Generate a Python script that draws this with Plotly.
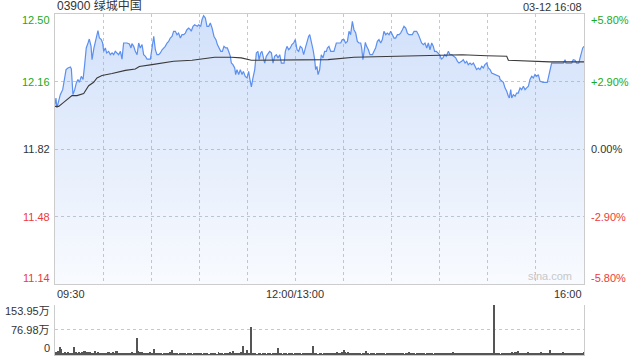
import plotly.graph_objects as go

# ---------------- data ----------------
title_text = "03900 绿城中国"
date_text = "03-12 16:08"
prev_close = 11.82
price_ticks = [12.50, 12.16, 11.82, 11.48, 11.14]
pct_labels = ["+5.80%", "+2.90%", "0.00%", "-2.90%", "-5.80%"]
time_labels = ["09:30", "12:00/13:00", "16:00"]
time_label_pos = [0, 150, 330]
grid_minutes = [30, 60, 90, 120, 150, 180, 210, 240, 270, 300]
vol_ticks = [153.95, 76.98, 0]
vol_labels = ["153.95万", "76.98万", "0"]

# price line (minutes since 09:30, trading-time axis)
price_min = [0.0, 0.6, 1.2, 2.3, 3.3, 4.8, 6.0, 6.9, 8.1, 9.6, 10.2, 11.2, 12.3, 13.3, 14.3, 15.2, 16.4, 17.5,
             18.5, 19.5, 20.6, 21.4, 22.5, 23.1, 24.3, 25.8, 26.8, 27.7, 28.9, 29.7, 30.4, 31.4, 32.2, 33.5,
             34.5, 35.6, 36.6, 37.6, 38.7, 39.7, 40.8, 41.8, 42.8, 44.9, 46.4, 47.4, 48.0, 49.1, 50.1, 51.2,
             52.2, 53.2, 54.3, 55.3, 56.4, 57.4, 59.5, 60.5, 61.6, 62.6, 63.6, 64.7, 65.7, 66.8, 67.8, 68.8,
             69.9, 70.9, 71.9, 73.0, 74.0, 75.1, 76.1, 77.1, 78.2, 79.2, 80.3, 81.3, 82.3, 83.4, 84.4,
             85.0, 86.1, 87.1, 88.8, 89.6, 90.9, 91.7, 92.7, 93.8, 94.8, 95.9, 96.9, 98.0, 99.2, 100.4,
             101.3, 102.3, 103.4, 104.4, 105.4, 106.5, 107.5, 108.3, 109.4, 110.0, 111.0, 112.1, 112.7,
             113.5, 114.6, 115.6, 116.7, 117.5, 118.7, 119.8, 120.8, 121.6, 122.5, 123.5, 124.6, 125.6,
             126.6, 127.3, 128.3, 129.1, 130.2, 130.8, 131.8, 132.9, 133.9, 135.0, 136.0, 137.0, 138.1,
             139.1, 140.2, 141.2, 142.9, 143.7, 144.7, 145.8, 146.8, 147.8, 148.9, 149.9, 151.0, 152.0,
             153.0, 154.1, 155.1, 156.2, 157.2, 158.2, 158.9, 159.9, 161.0, 162.0, 162.6, 163.4, 164.1,
             165.1, 166.1, 167.2, 168.2, 169.3,
             169.9, 170.9, 172.0, 174.0, 175.5, 178.2, 179.2, 180.3, 181.3, 182.4, 183.4, 184.4, 185.5,
             186.5, 187.6, 188.6, 189.6, 190.7, 191.3, 192.1, 192.8, 193.6, 194.4, 195.5, 196.5, 198.0,
             199.0, 200.0, 201.1, 202.1, 203.2, 204.2, 205.2, 206.3, 207.3, 208.4, 209.4, 210.4, 211.5,
             212.5, 213.6, 214.6, 215.6, 216.7, 217.7, 218.8, 219.8, 220.8, 222.9, 224.0, 225.6, 226.7,
             227.7, 228.7, 229.8, 230.8, 231.9, 232.9, 233.9, 235.0, 236.0, 236.8, 237.9, 238.9, 240.0,
             241.0, 242.0, 243.1, 244.1, 245.4, 246.4, 247.5, 248.9, 250.0, 251.0, 252.0,
             253.7, 254.7, 255.8, 256.8, 257.8, 258.9, 259.9, 261.0, 262.0, 263.0, 264.1, 265.1, 266.2,
             267.2, 268.2, 269.3, 270.3, 271.4, 272.4, 274.5, 275.5, 277.2, 277.6, 278.6, 279.7, 280.7,
             281.8, 282.8, 283.4, 284.3, 284.9, 285.9, 287.0, 288.0, 289.0, 290.1, 291.1, 292.2, 293.2,
             294.2, 295.3, 296.3, 297.4, 298.4, 299.4, 300.5, 301.5, 302.6, 304.6, 307.1, 308.4, 309.8,
             311.9, 315.0, 317.1, 318.2, 318.8, 322.3, 323.3, 324.4, 325.4, 326.7, 327.9, 329.2, 330.0]
price_val = [12.044, 12.077, 12.027, 12.069, 12.094, 12.119, 12.178, 12.220, 12.228, 12.233, 12.223, 12.094,
             12.119, 12.153, 12.170, 12.156, 12.186, 12.170, 12.245, 12.329, 12.354, 12.374, 12.337, 12.270,
             12.329, 12.387, 12.416, 12.379, 12.371, 12.354, 12.312, 12.329, 12.304, 12.312, 12.295, 12.304,
             12.295, 12.312, 12.304, 12.295, 12.312, 12.273, 12.354, 12.354, 12.349, 12.329, 12.351, 12.337,
             12.312, 12.295, 12.354, 12.329, 12.346, 12.295, 12.287, 12.273, 12.273, 12.320, 12.387, 12.320,
             12.295, 12.295, 12.304, 12.320, 12.329, 12.337, 12.354, 12.362, 12.379, 12.387, 12.413, 12.413,
             12.396, 12.404, 12.379, 12.396, 12.396, 12.404, 12.421, 12.429, 12.421,
             12.413, 12.438, 12.446, 12.438, 12.446, 12.438, 12.471, 12.491, 12.480, 12.438, 12.438, 12.455,
             12.429, 12.387, 12.371, 12.346, 12.329, 12.312, 12.312, 12.337, 12.329, 12.329, 12.312, 12.287,
             12.253, 12.245, 12.228, 12.195, 12.220, 12.195, 12.220, 12.195, 12.211, 12.186, 12.178, 12.211,
             12.170, 12.133, 12.178, 12.220, 12.304, 12.312, 12.270, 12.304, 12.312, 12.279, 12.253, 12.287,
             12.304, 12.312, 12.304, 12.253, 12.287, 12.295, 12.279, 12.295, 12.253, 12.253, 12.312, 12.337,
             12.320, 12.329, 12.346, 12.354, 12.371, 12.320, 12.312, 12.337, 12.329, 12.295, 12.329, 12.362,
             12.387, 12.396, 12.362, 12.320, 12.270, 12.220, 12.236, 12.195, 12.220, 12.295, 12.279, 12.312,
             12.312,
             12.329, 12.337, 12.312, 12.312, 12.354, 12.354, 12.371, 12.371, 12.354, 12.362, 12.413, 12.396,
             12.463, 12.421, 12.404, 12.362, 12.354, 12.354, 12.329, 12.270, 12.320, 12.357, 12.337, 12.320,
             12.295, 12.295, 12.312, 12.329, 12.362, 12.371, 12.354, 12.371, 12.413, 12.396, 12.404, 12.396,
             12.413, 12.396, 12.379, 12.379, 12.396, 12.396, 12.404, 12.421, 12.438, 12.429, 12.404, 12.396,
             12.396, 12.413, 12.413, 12.396, 12.371, 12.354, 12.346, 12.354, 12.329, 12.354, 12.320, 12.354,
             12.337, 12.312, 12.312, 12.304, 12.295, 12.273, 12.279, 12.295, 12.287, 12.312, 12.295, 12.295,
             12.287, 12.279, 12.262, 12.253,
             12.262, 12.270, 12.253, 12.262, 12.245, 12.253, 12.245, 12.253, 12.237, 12.220, 12.228, 12.220,
             12.237, 12.228, 12.245, 12.253, 12.228, 12.220, 12.203, 12.195, 12.195, 12.186, 12.170, 12.161,
             12.156, 12.128, 12.111, 12.086, 12.077, 12.119, 12.077, 12.094, 12.086, 12.102, 12.102, 12.128,
             12.119, 12.136, 12.119, 12.128, 12.136, 12.170, 12.186, 12.178, 12.195, 12.186, 12.195, 12.161,
             12.156, 12.156, 12.203, 12.253, 12.253, 12.253, 12.253, 12.270, 12.253, 12.253, 12.270, 12.267,
             12.253, 12.253, 12.287, 12.329, 12.337]

# average price line
avg_min = [0, 2.3, 5.4, 8.5, 10.6, 13.7, 17.9, 21.0, 24.1, 26.2, 29.3, 35.6, 43.9, 50.1, 52.6, 60.5, 68.8,
           74.0, 85.5, 93.4, 99.6, 110.0, 116.2, 122.5, 128.7, 170.3, 186.5, 209.4, 230.2, 253.9, 269.3,
           281.8, 282.8, 294.3, 308.8, 330.0]
avg_val = [12.035, 12.035, 12.055, 12.077, 12.089, 12.089, 12.099, 12.139, 12.156, 12.178, 12.190, 12.200,
           12.216, 12.223, 12.236, 12.245, 12.254, 12.262, 12.267, 12.274, 12.282, 12.282, 12.279, 12.267,
           12.267, 12.270, 12.282, 12.287, 12.292, 12.295, 12.290, 12.287, 12.267, 12.262, 12.259, 12.259]

# volume per minute (万股)
volume = [8, 10, 12, 26, 18, 6, 9, 5, 8, 6, 5, 7, 24, 8, 6, 10, 4, 9, 12, 13, 9, 10, 8, 5, 6, 11, 7, 9, 5, 6,
          7, 5, 6, 8, 9, 6, 10, 5, 11, 12, 7, 6, 4, 5, 5, 7, 4, 6, 8, 5, 7, 51, 12, 9, 10, 7, 5, 6, 4, 8,
          5, 6, 18, 7, 4, 5, 6, 3, 5, 7, 4, 6, 8, 15, 6, 4, 5, 3, 4, 6, 5, 4, 3, 5, 4, 6, 3, 4, 5, 4,
          4, 5, 3, 6, 4, 5, 3, 4, 5, 6, 4, 3, 10, 4, 5, 3, 6, 4, 7, 10, 6, 13, 5, 4, 6, 5, 8, 29, 4, 7,
          16, 5, 85, 6, 4, 5, 3, 4, 5, 3, 4, 6, 3, 4, 5, 3, 4, 6, 5, 22, 5, 4, 3, 5, 4, 3, 6, 4, 5, 3,
          4, 5, 7, 4, 3, 5, 4, 6, 5, 4, 6, 29, 5, 4, 3, 4, 5, 3, 4, 5, 6, 4, 5, 7, 6, 5, 8, 6, 7, 9,
          15, 8, 6, 10, 7, 5, 6, 5, 4, 6, 5, 3, 4, 5, 13, 4, 3, 5, 4, 6, 3, 4, 5, 6, 4, 5, 3, 6, 4, 5,
          6, 5, 4, 7, 5, 6, 4, 5, 3, 6, 5, 9, 5, 4, 6, 3, 5, 4, 6, 5, 4, 3, 5, 4, 6, 5, 3, 4, 5, 4,
          5, 4, 6, 5, 7, 4, 6, 5, 8, 4, 6, 7, 5, 6, 4, 5, 7, 6, 4, 5, 6, 4, 7, 5, 6, 5, 4, 6, 5, 7,
          5, 4, 6, 5, 153.95, 6, 4, 5, 3, 4, 5, 6, 4, 5, 7, 8, 6, 9, 10, 12, 6, 5, 7, 4, 6, 8, 5, 4, 6, 5,
          4, 6, 5, 8, 7, 5, 6, 4, 7, 16, 5, 6, 4, 5, 7, 6, 5, 8, 6, 4, 5, 6, 7, 5, 4, 6, 5, 7, 4, 6, 9]
vol_min = list(range(len(volume)))

# ---------------- styling ----------------
FONT = "Liberation Sans, Arial, Noto Sans CJK SC, sans-serif"
GREEN = "#1aaa1a"
RED = "#ee3a3a"
DARK = "#333333"
GRID = "#c8c8c8"
BORDER = "#cccccc"

fig = go.Figure()

fig.add_trace(go.Scatter(
    x=price_min, y=price_val, mode="lines",
    line=dict(color="#5b8ff0", width=1.2),
    fill="tozeroy",
    fillgradient=dict(type="vertical", start=11.14, stop=12.50,
                      colorscale=[[0, "rgba(120,165,240,0.05)"], [1, "rgba(120,165,240,0.34)"]]),
    xaxis="x", yaxis="y", hoverinfo="skip", showlegend=False))

fig.add_trace(go.Scatter(
    x=avg_min, y=avg_val, mode="lines",
    line=dict(color="#3a3a3a", width=1.1),
    xaxis="x", yaxis="y", hoverinfo="skip", showlegend=False))

fig.add_trace(go.Bar(
    x=vol_min, y=volume, width=0.6,
    marker=dict(color="#555555", line=dict(width=0)),
    xaxis="x2", yaxis="y2", hoverinfo="skip", showlegend=False))

fig.update_layout(
    width=640, height=360,
    margin=dict(l=55, r=56, t=14, b=5),
    paper_bgcolor="white", plot_bgcolor="white",
    font=dict(family=FONT, size=11, color=DARK),
    bargap=0,
    xaxis=dict(domain=[0, 1], range=[0, 330], tickvals=grid_minutes, showticklabels=False,
               showgrid=True, gridcolor=GRID, griddash="dot", gridwidth=1,
               showline=True, linecolor=BORDER, linewidth=1, mirror=True, zeroline=False,
               ticks="", anchor="y"),
    yaxis=dict(domain=[0.208, 1.0], range=[11.14, 12.50], tickvals=[11.48, 11.82, 12.16],
               showticklabels=False, showgrid=True, gridcolor=GRID, griddash="dot", gridwidth=1,
               showline=True, linecolor=BORDER, linewidth=1, mirror=True, zeroline=False,
               ticks="", anchor="x"),
    xaxis2=dict(domain=[0, 1], range=[0, 330], showticklabels=False, showgrid=False,
                showline=True, linecolor=BORDER, linewidth=1, zeroline=False, ticks="",
                anchor="y2"),
    yaxis2=dict(domain=[0.0, 0.1466], range=[0, 153.95], tickvals=[76.98, 153.95],
                showticklabels=False, showgrid=True, gridcolor=GRID, griddash="dot", gridwidth=1,
                showline=True, linecolor=BORDER, linewidth=1, mirror=True, zeroline=False,
                ticks="", anchor="x2"),
)

ann = []
# title & date
ann.append(dict(text=title_text, x=0, y=1, xref="paper", yref="paper", xanchor="left",
                yanchor="bottom", yshift=-1, showarrow=False, font=dict(size=12, color=DARK)))
ann.append(dict(text=date_text, x=1, y=1, xref="paper", yref="paper", xanchor="right",
                yanchor="bottom", yshift=-1, showarrow=False, font=dict(size=11, color=DARK)))

# price and percent labels
for i, (v, pl) in enumerate(zip(price_ticks, pct_labels)):
    if v > prev_close:
        col = GREEN
    elif v < prev_close:
        col = RED
    else:
        col = DARK
    shift = -6 if i == 0 else (6 if i == len(price_ticks) - 1 else 0)
    ann.append(dict(text=f"{v:.2f}", x=0, y=v, xref="paper", yref="y", xanchor="right",
                    yanchor="middle", xshift=-3, yshift=shift, showarrow=False,
                    font=dict(size=11, color=col)))
    ann.append(dict(text=pl, x=1, y=v, xref="paper", yref="y", xanchor="left",
                    yanchor="middle", xshift=5, yshift=shift, showarrow=False,
                    font=dict(size=11, color=col)))

# time labels
anchors = ["left", "center", "right"]
for t, pos, a in zip(time_labels, time_label_pos, anchors):
    ann.append(dict(text=t, x=pos, y=11.14, xref="x", yref="y", xanchor=a, yanchor="top",
                    yshift=-2, showarrow=False, font=dict(size=11, color=DARK)))

# volume labels
for i, (v, lab) in enumerate(zip(vol_ticks, vol_labels)):
    shift = -6 if i == 0 else (7 if i == len(vol_ticks) - 1 else 0)
    ann.append(dict(text=lab, x=0, y=v, xref="paper", yref="y2", xanchor="right",
                    yanchor="middle", xshift=-3, yshift=shift, showarrow=False,
                    font=dict(size=11, color=DARK)))

# watermark
ann.append(dict(text="sina.com", x=1, y=11.14, xref="paper", yref="y", xanchor="right",
                yanchor="bottom", xshift=-10, yshift=0, showarrow=False,
                font=dict(size=11, color="#c8c8c8")))

fig.update_layout(annotations=ann)
fig.write_html("out.html")
